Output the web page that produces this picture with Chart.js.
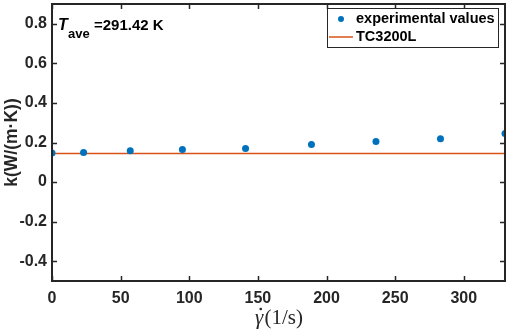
<!DOCTYPE html>
<html>
<head>
<meta charset="utf-8">
<script src="https://cdn.jsdelivr.net/npm/chart.js"></script>
<title>k vs shear rate</title>
<style>
  body { margin: 0; background: #fff; }
  #wrap { width: 510px; height: 330px; }
</style>
</head>
<body>
<div id="wrap"><canvas id="kChart" width="510" height="330"></canvas></div>
<script>
// data
const shearRate = [0, 23, 57, 95, 141, 189, 236, 283, 330];
const kValues = [0.147, 0.150, 0.158, 0.165, 0.170, 0.190, 0.205, 0.219, 0.245];
const refX = [0, 330];
const refK = [0.145, 0.145];
const xTicks = [0, 50, 100, 150, 200, 250, 300];
const yTicks = [-0.4, -0.2, 0, 0.2, 0.4, 0.6, 0.8];

const axisColor = '#262626';
const sans = '"Liberation Sans", Arial, sans-serif';
const serif = '"Liberation Serif", "DejaVu Serif", serif';

// MATLAB-like box with inward ticks, annotation, legend and x label
const boxPlugin = {
    id: 'box',
    afterDatasetsDraw(chart) {
        const { ctx, chartArea: a, scales } = chart;
        ctx.save();
        ctx.strokeStyle = axisColor;
        ctx.lineWidth = 1.5;
        ctx.beginPath();
        xTicks.forEach(v => {
            const px = Math.round(scales.x.getPixelForValue(v)) + 0.5;
            ctx.moveTo(px, a.bottom); ctx.lineTo(px, a.bottom - 5);
            ctx.moveTo(px, a.top); ctx.lineTo(px, a.top + 5);
        });
        yTicks.forEach(v => {
            const py = Math.round(scales.y.getPixelForValue(v)) + 0.5;
            ctx.moveTo(a.left, py); ctx.lineTo(a.left + 5, py);
            ctx.moveTo(a.right, py); ctx.lineTo(a.right - 5, py);
        });
        ctx.stroke();
        ctx.lineWidth = 2;
        ctx.strokeRect(a.left, a.top, a.right - a.left, a.bottom - a.top);

        // annotation T_ave
        ctx.fillStyle = '#000';
        ctx.textBaseline = 'alphabetic';
        ctx.font = 'italic bold 16px ' + sans;
        ctx.fillText('T', a.left + 6, 30);
        ctx.font = 'bold 13px ' + sans;
        ctx.fillText('ave', a.left + 16, 38);
        ctx.font = 'bold 15px ' + sans;
        ctx.fillText('=291.42 K', a.left + 42, 30);

        // legend box
        const lx = 327, ly = 8, lw = 171, lh = 39;
        ctx.fillStyle = '#fff';
        ctx.fillRect(lx, ly, lw, lh);
        ctx.lineWidth = 1;
        ctx.strokeStyle = axisColor;
        ctx.strokeRect(lx + 0.5, ly + 0.5, lw, lh);
        const ds = chart.data.datasets;
        ctx.fillStyle = ds[0].backgroundColor;
        ctx.beginPath();
        ctx.arc(341, 19, 3, 0, Math.PI * 2);
        ctx.fill();
        ctx.strokeStyle = ds[1].borderColor;
        ctx.lineWidth = 1.5;
        ctx.beginPath();
        ctx.moveTo(329, 37); ctx.lineTo(353, 37);
        ctx.stroke();
        ctx.fillStyle = '#000';
        ctx.font = 'bold 14.5px ' + sans;
        ctx.textBaseline = 'middle';
        ctx.fillText(ds[0].label, 356, 19);
        ctx.fillText(ds[1].label, 356, 37);

        // x label: italic gamma with dot, upright (1/s)
        const cx = (a.left + a.right) / 2, ty = 324;
        ctx.textBaseline = 'alphabetic';
        ctx.font = 'italic 21px ' + serif;
        const gw = ctx.measureText('γ').width;
        ctx.font = '21px ' + serif;
        const rw = ctx.measureText('(1/s)').width;
        const x0 = cx - (gw + rw) / 2;
        ctx.fillStyle = '#262626';
        ctx.font = 'italic 21px ' + serif;
        ctx.fillText('γ', x0, ty);
        ctx.beginPath();
        ctx.arc(x0 + gw / 2 + 1.5, ty - 15, 1.3, 0, Math.PI * 2);
        ctx.fill();
        ctx.font = '21px ' + serif;
        ctx.fillText('(1/s)', x0 + gw + 1, ty);
        ctx.restore();
    }
};

const tickFont = { family: sans, size: 16, weight: 'bold' };

new Chart(document.getElementById('kChart'), {
    type: 'scatter',
    data: {
        datasets: [{
            label: 'experimental values',
            data: shearRate.map((x, i) => ({ x: x, y: kValues[i] })),
            backgroundColor: '#0072BD',
            borderColor: '#0072BD',
            pointRadius: 3.5,
            pointBorderWidth: 0,
            showLine: false,
            order: 0
        }, {
            label: 'TC3200L',
            data: refX.map((x, i) => ({ x: x, y: refK[i] })),
            borderColor: '#D95319',
            backgroundColor: '#D95319',
            borderWidth: 1.5,
            pointRadius: 0,
            showLine: true,
            order: 1
        }]
    },
    options: {
        responsive: false,
        animation: false,
        layout: { padding: { left: 0, right: 5, top: 1, bottom: 0 } },
        plugins: {
            legend: { display: false },
            tooltip: { enabled: false }
        },
        scales: {
            x: {
                type: 'linear',
                min: 0,
                max: 330,
                afterBuildTicks: s => { s.ticks = xTicks.map(v => ({ value: v })); },
                afterFit: s => { s.height = 49; s.paddingLeft = 0; s.paddingRight = 0; },
                grid: { display: false, drawTicks: false },
                border: { display: false },
                ticks: { color: '#262626', font: tickFont, padding: 8, maxRotation: 0 },
                title: { display: false }
            },
            y: {
                type: 'linear',
                min: -0.5,
                max: 0.9,
                afterBuildTicks: s => { s.ticks = yTicks.map(v => ({ value: v })); },
                afterFit: s => { s.width = 52; s.paddingTop = 0; s.paddingBottom = 0; },
                grid: { display: false, drawTicks: false },
                border: { display: false },
                ticks: {
                    color: '#262626',
                    font: tickFont,
                    padding: 5,
                    callback: v => (Math.abs(v) < 1e-9 ? '0' : v.toFixed(1))
                },
                title: {
                    display: true,
                    text: 'k(W/(m·K))',
                    color: '#262626',
                    font: { family: sans, size: 17.5, weight: 'bold' },
                    padding: { top: 2, bottom: 0 }
                }
            }
        }
    },
    plugins: [boxPlugin]
});
</script>
</body>
</html>
